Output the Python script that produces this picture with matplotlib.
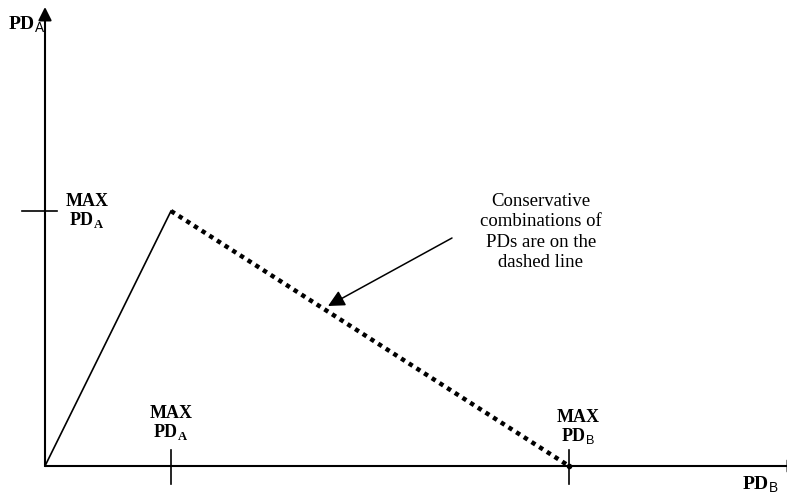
"""Schematic: conservative PD combinations lie on the dashed line."""
import matplotlib
matplotlib.use("Agg")
import matplotlib.pyplot as plt

plt.rcParams["font.family"] = ["Liberation Serif", "DejaVu Serif"]
plt.rcParams["mathtext.fontset"] = "custom"
plt.rcParams["mathtext.rm"] = "Liberation Serif"
plt.rcParams["mathtext.bf"] = "Liberation Serif:bold"
plt.rcParams["mathtext.sf"] = "Liberation Sans"

# schematic values (arbitrary units, origin at the axes corner)
max_pd_a = 255          # height of the peak on the PD_A axis
peak_x = 126            # PD_B position of the peak
max_pd_b = 524          # where the dashed line meets the PD_B axis
x_end, y_end = 756, 459  # axis arrow tips

solid_x = [0, peak_x]
solid_y = [0, max_pd_a]
dash_x = [peak_x, max_pd_b]
dash_y = [max_pd_a, 0]

note = "Conservative\ncombinations of\nPDs are on the\ndashed line"
note_xy = (496, 234)
note_from = (407, 228)
note_to = (283, 160)

fig = plt.figure(figsize=(7.87, 4.95), dpi=100)
ax = fig.add_axes([0, 0, 1, 1])
ax.set_xlim(-45, 742)
ax.set_ylim(-29, 466)
ax.axis("off")

# axes with arrow heads
arrow = dict(arrowstyle="-|>", mutation_scale=20, lw=1.5, color="black",
             shrinkA=0, shrinkB=0)
ax.annotate("", xy=(0, y_end), xytext=(0, 0), arrowprops=arrow, annotation_clip=False)
ax.annotate("", xy=(x_end, 0), xytext=(0, 0), arrowprops=arrow, annotation_clip=False)

# ticks
ax.plot([-23, 12], [max_pd_a, max_pd_a], color="black", lw=1.2)
for xt in (peak_x, max_pd_b):
    ax.plot([xt, xt], [16, -18], color="black", lw=1.2)

# lines
ax.plot(solid_x, solid_y, color="black", lw=1.2)
ax.plot(dash_x, dash_y, color="black", lw=3.2, linestyle=(0, (1, 1.05)))
ax.plot([max_pd_b], [0], "o", color="black", ms=3)

# labels
ax.text(-37, 436, r"$\mathbf{PD}_{\mathsf{A}}$", fontsize=14, ha="left", va="baseline")
ax.text(715, -24, r"$\mathbf{PD}_{\mathsf{B}}$", fontsize=14, ha="center", va="baseline")
ax.text(42, max_pd_a, "MAX\n" + r"$\mathbf{PD}_{\mathbf{A}}$", fontsize=13, fontweight="bold",
        ha="center", va="center", multialignment="center", linespacing=1.0)
ax.text(peak_x, 24, "MAX\n" + r"$\mathbf{PD}_{\mathbf{A}}$", fontsize=13, fontweight="bold",
        ha="center", va="bottom", multialignment="center", linespacing=1.0)
ax.text(max_pd_b + 9, 20, "MAX\n" + r"$\mathbf{PD}_{\mathsf{B}}$", fontsize=13, fontweight="bold",
        ha="center", va="bottom", multialignment="center", linespacing=1.0)

ax.text(*note_xy, note, fontsize=13.5, ha="center", va="center",
        multialignment="center", linespacing=1.25)
ax.annotate("", xy=note_to, xytext=note_from,
            arrowprops=dict(arrowstyle="-|>,head_length=0.5,head_width=0.25",
                            mutation_scale=20, lw=1.1, color="black",
                            shrinkA=0, shrinkB=0))

fig.savefig("out.png", dpi=100)
